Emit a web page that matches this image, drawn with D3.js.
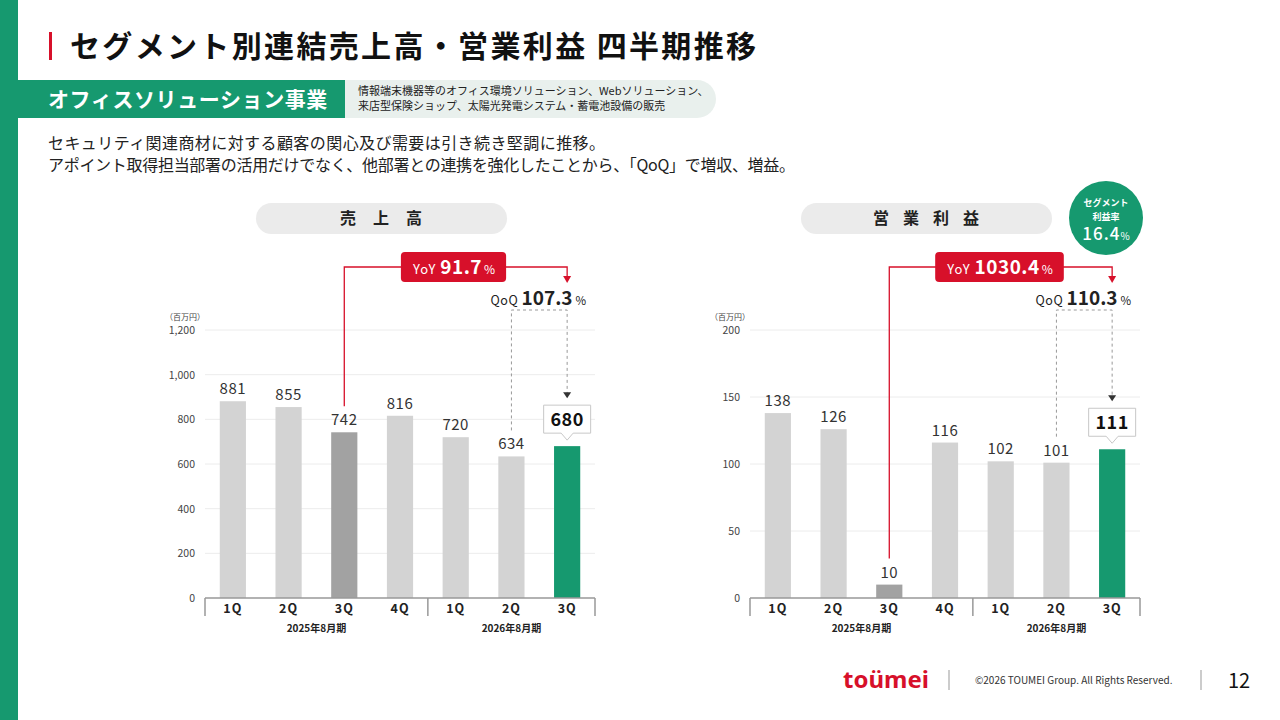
<!DOCTYPE html>
<html>
<head>
<meta charset="utf-8">
<script src="https://cdn.jsdelivr.net/npm/d3@7"></script>
<style>
  body { margin: 0; background: #fff; }
  svg { display: block; font-family: "Noto Sans CJK JP", "Noto Sans", sans-serif; }
</style>
</head>
<body>
<div id="chart"></div>
<script>
// data
var quarters = ["1Q", "2Q", "3Q", "4Q", "1Q", "2Q", "3Q"];
var fiscalYears = ["2025年8月期", "2026年8月期"];
var yearSpan = [4, 3];
var sales = [881, 855, 742, 816, 720, 634, 680];
var profit = [138, 126, 10, 116, 102, 101, 111];
var salesTicks = [0, 200, 400, 600, 800, 1000, 1200];
var profitTicks = [0, 50, 100, 150, 200];
var salesYoY = "91.7";
var salesQoQ = "107.3";
var profitYoY = "1030.4";
var profitQoQ = "110.3";
var marginRate = "16.4";

var GREEN = "#16996f", RED = "#d7102a", GRAY = "#d3d3d3", DARK = "#a2a2a2";

var svg = d3.select("#chart").append("svg")
    .attr("width", 1280)
    .attr("height", 720);

// ---- header ----
svg.append("rect").attr("x", 0).attr("y", 0).attr("width", 18).attr("height", 720).attr("fill", GREEN);
svg.append("rect").attr("x", 49).attr("y", 32).attr("width", 3).attr("height", 28).attr("fill", RED);
svg.append("text")
    .attr("x", 70).attr("y", 57)
    .attr("font-size", 30).attr("font-weight", 700)
    .attr("textLength", 686).attr("lengthAdjust", "spacing")
    .attr("fill", "#111")
    .text("セグメント別連結売上高・営業利益 四半期推移");

svg.append("rect").attr("x", 300).attr("y", 80).attr("width", 416).attr("height", 38)
    .attr("rx", 19).attr("fill", "#e9f0ed");
svg.append("rect").attr("x", 18).attr("y", 80).attr("width", 327).attr("height", 38).attr("fill", GREEN);
svg.append("text")
    .attr("x", 48).attr("y", 107)
    .attr("font-size", 21).attr("font-weight", 700).attr("letter-spacing", 0.6)
    .attr("fill", "#fff")
    .text("オフィスソリューション事業");
svg.append("text").attr("x", 358).attr("y", 95)
    .attr("font-size", 11).attr("fill", "#222")
    .text("情報端末機器等のオフィス環境ソリューション、Webソリューション、");
svg.append("text").attr("x", 358).attr("y", 110)
    .attr("font-size", 11).attr("fill", "#222")
    .text("来店型保険ショップ、太陽光発電システム・蓄電池設備の販売");

svg.append("text").attr("x", 48).attr("y", 149)
    .attr("font-size", 16).attr("fill", "#222")
    .attr("textLength", 557).attr("lengthAdjust", "spacing")
    .text("セキュリティ関連商材に対する顧客の関心及び需要は引き続き堅調に推移。");
svg.append("text").attr("x", 48).attr("y", 171)
    .attr("font-size", 16).attr("fill", "#222")
    .attr("textLength", 747).attr("lengthAdjust", "spacing")
    .text("アポイント取得担当部署の活用だけでなく、他部署との連携を強化したことから、「QoQ」で増収、増益。");

// ---- chart builder ----
function drawChart(opt) {
    var g = svg.append("g");
    var x = d3.scaleBand()
        .domain(d3.range(opt.values.length))
        .range([opt.left, opt.right])
        .paddingInner(0.53).paddingOuter(0.265);
    var y = d3.scaleLinear()
        .domain([0, d3.max(opt.ticks)])
        .range([598, 330]);

    // title pill
    g.append("rect")
        .attr("x", opt.left + 51).attr("y", 203).attr("width", 251).attr("height", 31)
        .attr("rx", 15.5).attr("fill", "#ebebeb");
    g.append("text")
        .attr("x", opt.left + 176 + opt.titleLs / 2).attr("y", 224)
        .attr("text-anchor", "middle").attr("font-size", 16).attr("font-weight", 700)
        .attr("letter-spacing", opt.titleLs).attr("fill", "#222")
        .text(opt.title);

    // grid
    g.selectAll(".grid").data(opt.ticks.filter(d => d > 0)).enter()
        .append("line")
        .attr("x1", opt.left).attr("x2", opt.right)
        .attr("y1", d => y(d)).attr("y2", d => y(d))
        .attr("stroke", "#ececec").attr("stroke-width", 1);

    // y axis labels
    var yAxis = d3.axisLeft(y).tickValues(opt.ticks).tickSize(0).tickPadding(10)
        .tickFormat(d3.format(","));
    var ya = g.append("g").attr("transform", "translate(" + (opt.left) + ",0)").call(yAxis);
    ya.select(".domain").remove();
    ya.selectAll("text").attr("font-size", 10.5).attr("fill", "#444")
        .attr("font-family", "'Noto Sans CJK JP', sans-serif");
    g.append("text")
        .attr("x", opt.left - 40).attr("y", 320)
        .attr("font-size", 8).attr("fill", "#444")
        .text("（百万円）");

    // bars
    g.selectAll(".bar").data(opt.values).enter()
        .append("rect")
        .attr("x", (d, i) => x(i))
        .attr("y", d => y(d))
        .attr("width", x.bandwidth())
        .attr("height", d => y(0) - y(d))
        .attr("fill", (d, i) => i === opt.values.length - 1 ? GREEN : (i === 2 ? DARK : GRAY));

    // value labels (not last)
    g.selectAll(".val").data(opt.values.slice(0, -1)).enter()
        .append("text")
        .attr("x", (d, i) => x(i) + x.bandwidth() / 2)
        .attr("y", d => y(d) - 7)
        .attr("text-anchor", "middle").attr("font-size", 15).attr("fill", "#333")
        .attr("letter-spacing", 0.5)
        .text(d => d);

    // x axis
    g.append("line")
        .attr("x1", opt.left).attr("x2", opt.right)
        .attr("y1", y(0)).attr("y2", y(0))
        .attr("stroke", "#999").attr("stroke-width", 1.5);
    var sep = [0, yearSpan[0], opt.values.length];
    var edge = sep.map((s, k) => k === 0 ? opt.left : (k === sep.length - 1 ? opt.right : x(s) - x.step() * x.paddingInner() / 2));
    g.selectAll(".sep").data(edge).enter()
        .append("line")
        .attr("x1", d => d).attr("x2", d => d)
        .attr("y1", y(0)).attr("y2", y(0) + 18)
        .attr("stroke", "#999").attr("stroke-width", 1.5);
    var xAxis = d3.axisBottom(x).tickSize(0).tickPadding(6).tickFormat(i => quarters[i]);
    var xa = g.append("g").attr("transform", "translate(0," + y(0) + ")").call(xAxis);
    xa.select(".domain").remove();
    xa.selectAll("text").attr("font-size", 12.5).attr("font-weight", 700).attr("fill", "#222")
        .attr("letter-spacing", 1)
        .attr("font-family", "'Noto Sans CJK JP', sans-serif");
    g.selectAll(".fy").data(fiscalYears).enter()
        .append("text")
        .attr("x", (d, k) => (edge[k] + edge[k + 1]) / 2)
        .attr("y", 632)
        .attr("text-anchor", "middle").attr("font-size", 10).attr("font-weight", 700).attr("fill", "#222")
        .text(d => d);

    // YoY connector
    var n = opt.values.length;
    var cx = i => x(i) + x.bandwidth() / 2;
    var lastTop = y(opt.values[n - 1]);
    g.append("path")
        .attr("d", "M" + cx(2) + "," + (y(opt.values[2]) - 26) + "V267H" + cx(n - 1) + "V277")
        .attr("fill", "none").attr("stroke", RED).attr("stroke-width", 1.3);
    g.append("path")
        .attr("d", "M" + (cx(n - 1) - 4) + ",276L" + (cx(n - 1) + 4) + ",276L" + cx(n - 1) + ",283Z")
        .attr("fill", RED);
    var yoy = g.append("g");
    var yoyText = yoy.append("text")
        .attr("x", opt.yoyX).attr("y", 274)
        .attr("text-anchor", "middle").attr("fill", "#fff");
    yoyText.append("tspan").attr("font-size", 13).attr("letter-spacing", 1).text("YoY ");
    yoyText.append("tspan").attr("font-size", 19).attr("font-weight", 700).attr("letter-spacing", 0.5).text(opt.yoy);
    yoyText.append("tspan").attr("font-size", 12).attr("dx", 2).text("%");
    var bb = yoyText.node().getBBox();
    yoy.insert("rect", "text")
        .attr("x", bb.x - 11).attr("y", 252).attr("width", bb.width + 22).attr("height", 30)
        .attr("rx", 4).attr("fill", RED);

    // QoQ
    var qoqText = g.append("text")
        .attr("x", cx(n - 1) + 19).attr("y", 305)
        .attr("text-anchor", "end").attr("fill", "#222");
    qoqText.append("tspan").attr("font-size", 12.5).attr("letter-spacing", 0.5).text("QoQ ");
    qoqText.append("tspan").attr("font-size", 19).attr("font-weight", 700).text(opt.qoq);
    qoqText.append("tspan").attr("font-size", 11.5).attr("dx", 3).text("%");

    var boxTop = lastTop - 41;
    g.append("path")
        .attr("d", "M" + cx(n - 2) + "," + (y(opt.values[n - 2]) - 26) + "V310H" + cx(n - 1) + "V" + (boxTop - 12))
        .attr("fill", "none").attr("stroke", "#999").attr("stroke-width", 1)
        .attr("stroke-dasharray", "3,3");
    g.append("path")
        .attr("d", "M" + (cx(n - 1) - 4) + "," + (boxTop - 13) + "L" + (cx(n - 1) + 4) + "," + (boxTop - 13) + "L" + cx(n - 1) + "," + (boxTop - 7) + "Z")
        .attr("fill", "#333");

    // callout box for latest value
    var bx = cx(n - 1), bw = 47, bh = 28, bBottom = boxTop + bh;
    g.append("path")
        .attr("d", "M" + (bx - bw / 2) + "," + boxTop + "H" + (bx + bw / 2) + "V" + bBottom +
            "H" + (bx + 6) + "L" + bx + "," + (bBottom + 7) + "L" + (bx - 6) + "," + bBottom +
            "H" + (bx - bw / 2) + "Z")
        .attr("fill", "#fff").attr("stroke", "#c8c8c8").attr("stroke-width", 1);
    g.append("text")
        .attr("x", bx).attr("y", boxTop + 21)
        .attr("text-anchor", "middle").attr("font-size", 18).attr("font-weight", 700)
        .attr("letter-spacing", 0.5).attr("fill", "#111")
        .text(opt.values[n - 1]);
}

drawChart({ left: 205, right: 595, values: sales, ticks: salesTicks, title: "売上高", titleLs: 17,
    yoy: salesYoY, qoq: salesQoQ, yoyX: 454 });
drawChart({ left: 750, right: 1140, values: profit, ticks: profitTicks, title: "営業利益", titleLs: 14,
    yoy: profitYoY, qoq: profitQoQ, yoyX: 1000 });

// margin badge
svg.append("circle").attr("cx", 1106).attr("cy", 218).attr("r", 37).attr("fill", GREEN);
svg.append("text").attr("x", 1106).attr("y", 206).attr("text-anchor", "middle")
    .attr("font-size", 9).attr("font-weight", 700).attr("fill", "#fff").text("セグメント");
svg.append("text").attr("x", 1106).attr("y", 219.5).attr("text-anchor", "middle")
    .attr("font-size", 9).attr("font-weight", 700).attr("fill", "#fff").text("利益率");
var mr = svg.append("text").attr("x", 1106).attr("y", 240).attr("text-anchor", "middle").attr("fill", "#fff");
mr.append("tspan").attr("font-size", 17).attr("font-weight", 500).attr("letter-spacing", 1).text(marginRate);
mr.append("tspan").attr("font-size", 10).text("%");

// footer
svg.append("text").attr("x", 843).attr("y", 688)
    .attr("font-size", 24).attr("font-weight", 700).attr("fill", RED)
    .attr("font-family", "'Noto Sans', sans-serif")
    .text("toümei");
svg.append("line").attr("x1", 949).attr("x2", 949).attr("y1", 670).attr("y2", 690).attr("stroke", "#999");
svg.append("text").attr("x", 975).attr("y", 684)
    .attr("font-size", 10).attr("fill", "#333")
    .text("©2026 TOUMEI Group. All Rights Reserved.");
svg.append("line").attr("x1", 1201).attr("x2", 1201).attr("y1", 670).attr("y2", 690).attr("stroke", "#999");
svg.append("text").attr("x", 1239).attr("y", 688).attr("text-anchor", "middle")
    .attr("font-size", 20).attr("fill", "#111")
    .text("12");
</script>
</body>
</html>
